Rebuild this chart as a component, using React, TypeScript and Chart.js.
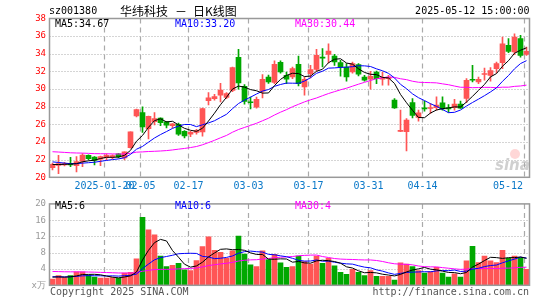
import { useEffect, useRef } from 'react';
import { Chart, registerables } from 'chart.js';

Chart.register(...registerables);

// ---- data ----
const dates = [
  '2025-01-07','2025-01-08','2025-01-09','2025-01-10','2025-01-13','2025-01-14','2025-01-15','2025-01-16','2025-01-17',
  '2025-01-20','2025-01-21','2025-01-22','2025-01-23','2025-01-24','2025-01-27',
  '2025-02-05','2025-02-06','2025-02-07','2025-02-10','2025-02-11','2025-02-12','2025-02-13','2025-02-14',
  '2025-02-17','2025-02-18','2025-02-19','2025-02-20','2025-02-21','2025-02-24','2025-02-25','2025-02-26','2025-02-27','2025-02-28',
  '2025-03-03','2025-03-04','2025-03-05','2025-03-06','2025-03-07','2025-03-10','2025-03-11','2025-03-12','2025-03-13','2025-03-14',
  '2025-03-17','2025-03-18','2025-03-19','2025-03-20','2025-03-21','2025-03-24','2025-03-25','2025-03-26','2025-03-27','2025-03-28',
  '2025-03-31','2025-04-01','2025-04-02','2025-04-03','2025-04-07','2025-04-08','2025-04-09','2025-04-10','2025-04-11',
  '2025-04-14','2025-04-15','2025-04-16','2025-04-17','2025-04-18','2025-04-21','2025-04-22','2025-04-23','2025-04-24','2025-04-25',
  '2025-04-28','2025-04-29','2025-04-30','2025-05-06','2025-05-07','2025-05-08','2025-05-09','2025-05-12',
];

const open = [
  21.10,21.35,21.40,21.58,21.32,21.80,22.50,22.30,22.05,22.22,
  22.30,22.65,22.20,23.35,26.95,27.34,25.50,26.30,26.70,26.30,
  25.85,26.00,25.20,24.90,25.10,25.15,28.70,28.90,29.30,29.05,
  29.85,33.60,30.30,28.55,27.95,29.75,31.35,30.75,33.03,31.56,
  31.37,32.81,30.24,31.75,32.24,33.55,33.94,33.75,32.99,32.50,
  31.94,32.77,31.37,31.11,31.94,31.11,31.19,28.74,25.20,25.16,
  28.47,26.80,27.80,27.80,27.90,28.45,27.80,27.90,28.30,28.93,
  31.05,30.81,31.65,31.56,32.32,32.99,34.95,34.20,35.71,33.94,
];
const high = [
  21.60,22.50,21.70,22.25,22.34,22.70,22.55,22.35,22.40,22.67,
  22.55,22.70,22.90,25.15,27.72,28.00,26.95,27.35,26.75,26.35,
  26.10,26.15,25.30,25.20,25.45,27.85,29.60,29.40,30.65,29.60,
  32.50,34.50,30.50,29.10,29.10,31.65,31.60,33.20,33.20,31.94,
  32.50,33.75,31.37,32.69,34.50,34.58,35.14,33.94,33.26,32.88,
  33.07,32.88,31.56,32.02,32.05,31.94,31.56,28.93,27.61,26.67,
  28.93,27.61,28.63,28.36,29.11,29.11,28.25,28.85,28.63,31.19,
  32.69,31.37,32.39,32.43,33.07,35.89,35.71,36.27,36.08,34.76,
];
const low = [
  20.85,20.40,21.30,21.20,20.60,21.20,21.98,21.40,21.32,21.96,
  22.10,22.20,21.96,23.30,26.85,25.10,24.35,25.95,25.85,25.60,
  25.60,24.75,24.45,24.60,24.90,24.65,28.20,28.75,28.55,28.90,
  29.70,30.00,28.30,27.75,27.85,29.00,30.65,30.60,31.80,30.62,
  31.19,30.36,29.30,31.26,32.02,32.50,32.96,32.69,31.45,30.89,
  31.80,31.50,30.89,29.98,30.62,30.43,30.43,27.80,25.16,22.98,
  26.74,26.37,27.50,27.23,27.61,27.61,27.34,27.61,27.80,28.47,
  30.81,30.62,31.00,30.89,31.83,32.32,34.12,33.90,33.63,33.82,
];
const close = [
  21.47,21.55,21.55,21.40,21.77,22.52,22.10,21.92,22.34,22.49,
  22.45,22.30,22.88,25.15,27.68,25.70,26.92,26.67,26.20,25.90,
  26.05,24.90,24.70,25.10,25.30,27.80,29.00,29.15,29.90,29.50,
  32.45,30.70,28.60,28.45,28.85,31.10,30.80,32.80,31.94,31.11,
  32.32,30.62,31.11,32.20,33.82,33.50,34.31,33.07,32.50,31.37,
  32.88,31.68,31.00,31.45,31.19,31.30,31.37,27.87,25.25,26.48,
  27.00,27.30,27.75,27.90,28.20,27.75,27.75,28.30,27.85,31.00,
  31.00,31.11,31.70,32.10,32.88,35.14,34.28,35.89,33.82,34.28,
];
const volume = [
  1.5,2.4,1.9,2.4,3.3,3.3,2.5,2.0,1.8,1.8,
  1.9,1.7,3.0,3.2,6.5,16.7,13.6,12.4,7.2,4.6,
  4.9,5.4,3.8,3.6,6.1,9.5,11.9,8.6,8.1,6.6,
  8.5,12.1,7.7,5.0,4.6,8.5,6.3,7.6,5.5,4.4,
  4.6,7.2,5.8,5.2,7.2,5.4,6.6,4.8,3.2,2.7,
  3.9,3.2,2.4,3.6,2.2,2.2,2.2,1.3,5.5,5.2,
  4.6,3.6,3.0,3.4,4.4,3.0,2.0,2.8,2.0,6.0,
  9.6,5.6,7.2,6.0,5.6,8.6,6.6,7.2,6.8,3.9,
];
// closes / volumes of the 29 sessions before the window (for the moving averages)
const prevClose = [
  22.6,22.8,22.7,22.5,22.9,23.0,22.8,22.6,22.7,22.9,22.8,22.6,22.7,
  24.0,24.8,25.6,25.9,25.2,24.5,23.9,
  22.2,22.3,22.0,21.8,21.9,21.6,21.4,21.3,21.5,
];
const prevVolume = [
  3.6,3.1,2.8,3.5,4.0,3.2,2.9,3.4,3.0,3.3,3.6,3.1,3.5,
  4.2,5.8,7.1,6.5,5.6,4.8,4.0,
  2.6,2.2,2.0,2.3,2.0,2.1,2.2,1.9,2.3,
];

const tickDates = ['2025-01-20','2025-02-05','2025-02-17','2025-03-03','2025-03-17','2025-03-31','2025-04-14','2025-05-12'];
const tickTexts = ['2025-01-20','02-05','02-17','03-03','03-17','03-31','04-14','05-12'];

const priceMin = 20, priceMax = 38, priceStep = 2;
const volMin = 0, volMax = 20, volStep = 4;

const priceLegend = ['MA5:34.67', 'MA10:33.20', 'MA30:30.44'];
const volumeLegend = ['MA5:6', 'MA10:6', 'MA30:4'];
const stockCode = 'sz001380';
const titleParts = ['华纬科技', '－', '日K线图'];
const timeText = '2025-05-12 15:00:00';
const volumeUnit = 'x万';
const copyrightText = 'Copyright 2025 SINA.COM';
const urlText = 'http://finance.sina.com.cn';

// ---- styles ----
const UP = '#ff5555';
const DOWN = '#00a800';
const MA_COLORS = ['#000000', '#0000ff', '#ff00ff'];
const MONO = "'DejaVu Sans Mono', monospace";
const W = 545;
const H1 = 195;
const H2 = 105;
const TOP2 = 195;

function movingAverage(values: number[], history: number[], n: number) {
  const all = history.concat(values);
  const off = history.length;
  return values.map((_, i) => {
    let s = 0;
    for (let k = 0; k < n; k++) s += all[off + i - k];
    return s / n;
  });
}

const candleColors = close.map((c, i) => (c >= open[i] ? UP : DOWN));

function drawFrame(chart: any, yStepValues: number[]) {
  const { ctx, chartArea } = chart;
  const xs = chart.scales.x;
  const ys = chart.scales.y;
  ctx.save();
  ctx.strokeStyle = '#aaaaaa';
  ctx.lineWidth = 1;
  ctx.setLineDash([1, 2]);
  yStepValues.forEach((v) => {
    const y = Math.round(ys.getPixelForValue(v)) + 0.5;
    ctx.beginPath();
    ctx.moveTo(chartArea.left, y);
    ctx.lineTo(chartArea.right, y);
    ctx.stroke();
  });
  ctx.setLineDash([5, 4]);
  ctx.lineWidth = 1.2;
  ctx.strokeStyle = '#aaaaaa';
  tickDates.forEach((d) => {
    const idx = dates.indexOf(d);
    if (idx < 0) return;
    const x = xs.getPixelForValue(idx) - 2;
    ctx.beginPath();
    ctx.moveTo(x, chartArea.top);
    ctx.lineTo(x, chartArea.bottom);
    ctx.stroke();
  });
  ctx.restore();
}

function drawBox(chart: any) {
  const { ctx, chartArea } = chart;
  ctx.save();
  ctx.strokeStyle = '#999999';
  ctx.lineWidth = 1.5;
  ctx.setLineDash([]);
  ctx.strokeRect(chartArea.left, chartArea.top, chartArea.right - chartArea.left, chartArea.bottom - chartArea.top);
  ctx.restore();
}

function innerValues(min: number, max: number, step: number) {
  const out: number[] = [];
  for (let v = min + step; v < max - 1e-9; v += step) out.push(v);
  return out;
}

const pricePlugin = {
  id: 'priceDecor',
  beforeDatasetsDraw(chart: any) {
    drawFrame(chart, innerValues(priceMin, priceMax, priceStep));
  },
  afterDraw(chart: any) {
    drawBox(chart);
    const { ctx } = chart;
    const xs = chart.scales.x;
    ctx.save();
    ctx.textBaseline = 'middle';
    ctx.font = `10px ${MONO}`;
    ctx.fillStyle = '#000';
    ctx.textAlign = 'left';
    ctx.fillText(stockCode, 49, 11.5);
    ctx.font = "12px 'Noto Sans CJK SC', sans-serif";
    const tx = [120, 175, 193];
    titleParts.forEach((t, i) => ctx.fillText(t, tx[i], 11.5));
    ctx.font = `10px ${MONO}`;
    ctx.textAlign = 'right';
    ctx.fillText(timeText, 529.5, 11.5);
    ctx.textAlign = 'left';
    const lx = [55, 175, 295];
    priceLegend.forEach((t, i) => {
      ctx.fillStyle = MA_COLORS[i];
      ctx.fillText(t, lx[i], 24.5);
    });
    ctx.fillStyle = '#0a78c8';
    ctx.textAlign = 'center';
    tickDates.forEach((d, k) => {
      const idx = dates.indexOf(d);
      if (idx < 0) return;
      const t = tickTexts[k];
      const w = ctx.measureText(t).width;
      let x = xs.getPixelForValue(idx) - 2;
      if (x + w / 2 > 523) x = 523 - w / 2;
      ctx.fillText(t, x, 186);
    });
    ctx.fillStyle = 'rgba(255,140,140,0.35)';
    ctx.beginPath();
    ctx.arc(515, 154, 5, 0, Math.PI * 2);
    ctx.fill();
    ctx.font = "italic bold 15px 'DejaVu Sans', sans-serif";
    ctx.fillStyle = 'rgba(170,170,170,0.55)';
    ctx.textAlign = 'left';
    ctx.textBaseline = 'alphabetic';
    ctx.fillText('sina', 495, 170);
    ctx.restore();
  },
};

const volumePlugin = {
  id: 'volumeDecor',
  beforeDatasetsDraw(chart: any) {
    drawFrame(chart, innerValues(volMin, volMax, volStep));
  },
  afterDraw(chart: any) {
    drawBox(chart);
    const { ctx } = chart;
    ctx.save();
    ctx.textBaseline = 'middle';
    ctx.font = `10px ${MONO}`;
    ctx.textAlign = 'left';
    const lx = [55, 175, 295];
    volumeLegend.forEach((t, i) => {
      ctx.fillStyle = MA_COLORS[i];
      ctx.fillText(t, lx[i], 206 - TOP2);
    });
    ctx.fillStyle = '#555555';
    ctx.fillText(copyrightText, 50, 292 - TOP2);
    ctx.textAlign = 'right';
    ctx.fillText(urlText, 529, 292 - TOP2);
    ctx.restore();
  },
};

function lineDataset(label: string, data: number[], color: string) {
  return {
    type: 'line' as const,
    label,
    data,
    borderColor: color,
    borderWidth: 1,
    pointRadius: 0,
    tension: 0,
    fill: false,
    order: 0,
  };
}

export default function App() {
  const priceRef = useRef<HTMLCanvasElement | null>(null);
  const volRef = useRef<HTMLCanvasElement | null>(null);

  useEffect(() => {
    const ma5 = movingAverage(close, prevClose, 5);
    const ma10 = movingAverage(close, prevClose, 10);
    const ma30 = movingAverage(close, prevClose, 30);
    const vma5 = movingAverage(volume, prevVolume, 5);
    const vma10 = movingAverage(volume, prevVolume, 10);
    const vma30 = movingAverage(volume, prevVolume, 30);

    const yAxisCommon = (min: number, max: number, step: number, color: string, cb?: any) => ({
      type: 'linear' as const,
      min,
      max,
      afterFit: (s: any) => {
        s.width = 49.5;
      },
      grid: { display: false, drawTicks: false },
      border: { display: false },
      ticks: {
        stepSize: step,
        color,
        padding: 3.5,
        font: { family: MONO, size: 9 },
        ...(cb ? { callback: cb } : {}),
      },
    });

    const priceChart = new Chart(priceRef.current as HTMLCanvasElement, {
      type: 'bar',
      data: {
        labels: dates,
        datasets: [
          lineDataset('MA5', ma5, MA_COLORS[0]),
          lineDataset('MA10', ma10, MA_COLORS[1]),
          lineDataset('MA30', ma30, MA_COLORS[2]),
          {
            type: 'bar',
            label: 'body',
            data: open.map((o, i) => [o, close[i]]) as any,
            backgroundColor: candleColors,
            barThickness: 5,
            grouped: false,
            minBarLength: 1,
            order: 1,
          } as any,
          {
            type: 'bar',
            label: 'wick',
            data: low.map((l, i) => [l, high[i]]) as any,
            backgroundColor: candleColors,
            barThickness: 1,
            grouped: false,
            order: 2,
          } as any,
        ],
      },
      options: {
        animation: false,
        responsive: false,
        events: [],
        layout: { padding: { left: 0, right: 15.5, top: 18.5, bottom: H1 - 177.3 } },
        plugins: { legend: { display: false }, tooltip: { enabled: false } },
        scales: {
          x: { type: 'category', display: false, offset: true },
          y: yAxisCommon(priceMin, priceMax, priceStep, '#ff0000'),
        } as any,
      },
      plugins: [pricePlugin],
    });

    const volChart = new Chart(volRef.current as HTMLCanvasElement, {
      type: 'bar',
      data: {
        labels: dates,
        datasets: [
          lineDataset('MA5', vma5, MA_COLORS[0]),
          lineDataset('MA10', vma10, MA_COLORS[1]),
          lineDataset('MA30', vma30, MA_COLORS[2]),
          {
            type: 'bar',
            label: 'volume',
            data: volume,
            backgroundColor: candleColors,
            barThickness: 5,
            grouped: false,
            order: 1,
          } as any,
        ],
      },
      options: {
        animation: false,
        responsive: false,
        events: [],
        layout: { padding: { left: 0, right: 15.5, top: 200.7 - TOP2, bottom: TOP2 + H2 - 285.3 } },
        plugins: { legend: { display: false }, tooltip: { enabled: false } },
        scales: {
          x: { type: 'category', display: false, offset: true },
          y: yAxisCommon(volMin, volMax, volStep, '#999999', (v: any) => (v === 0 ? volumeUnit : String(v))),
        } as any,
      },
      plugins: [volumePlugin],
    });

    return () => {
      priceChart.destroy();
      volChart.destroy();
    };
  }, []);

  return (
    <div style={{ position: 'fixed', left: 0, top: 0, width: W, height: 300, background: '#ffffff', overflow: 'hidden' }}>
      <canvas
        ref={priceRef}
        width={W}
        height={H1}
        style={{ position: 'absolute', left: 0, top: 0, width: W, height: H1 }}
      />
      <canvas
        ref={volRef}
        width={W}
        height={H2}
        style={{ position: 'absolute', left: 0, top: TOP2, width: W, height: H2 }}
      />
    </div>
  );
}
